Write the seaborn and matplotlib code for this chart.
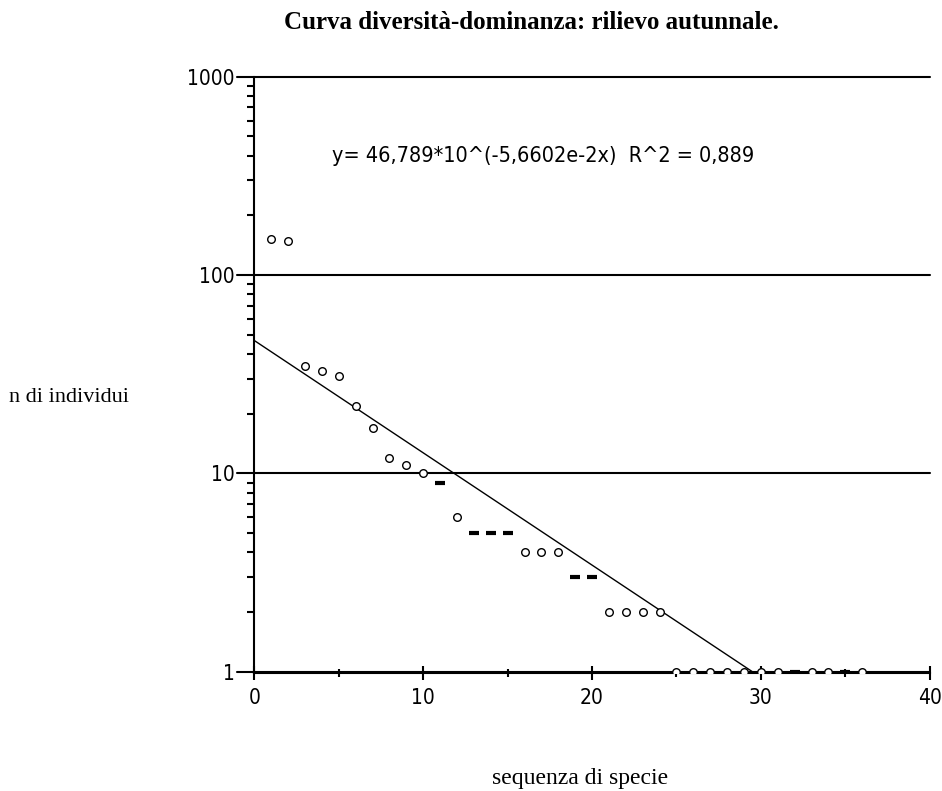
"""
Curva diversità-dominanza, rilievo autunnale (scala logaritmica).
"""

import numpy as np
import pandas as pd
import matplotlib
matplotlib.use("Agg")
import matplotlib.pyplot as plt
from matplotlib.ticker import FixedLocator, NullFormatter
import seaborn as sns

# dati
rango_cerchi = [1, 2, 3, 4, 5, 6, 7, 8, 9, 10, 12, 16, 17, 18, 21, 22, 23, 24,
                25, 26, 27, 28, 29, 30, 31, 33, 34, 36]
individui_cerchi = [152, 148, 35, 33, 31, 22, 17, 12, 11, 10, 6, 4, 4, 4, 2, 2, 2, 2,
                    1, 1, 1, 1, 1, 1, 1, 1, 1, 1]
rango_trattini = [11, 13, 14, 15, 19, 20, 32, 35]
individui_trattini = [9, 5, 5, 5, 3, 3, 1, 1]

# retta di tendenza y = a * 10^(b x)
coeff_a = 46.789
coeff_b = -5.6602e-2
x_tendenza = [0, 40]

titolo = "Curva diversità-dominanza: rilievo autunnale."
etichetta_x = "sequenza di specie"
etichetta_y = "n di individui"
equazione = "y= 46,789*10^(-5,6602e-2x)  R^2 = 0,889"

df_c = pd.DataFrame({"rango": rango_cerchi, "n": individui_cerchi})
df_t = pd.DataFrame({"rango": rango_trattini, "n": individui_trattini})
df_fit = pd.DataFrame({"rango": x_tendenza})
df_fit["n"] = coeff_a * 10 ** (coeff_b * df_fit["rango"])

sns.set_style("white")
plt.rcParams["text.color"] = "black"
tick_font = ["DejaVu Sans"]
serif_font = ["Liberation Serif", "DejaVu Serif"]

fig = plt.figure(figsize=(9.42, 7.91), dpi=100)
ax = fig.add_axes([0.27, 0.149, 0.717, 0.754])

ax.set_yscale("log")
ax.set_xlim(0, 40)
ax.set_ylim(0.985, 1000)

# griglia orizzontale sulle decadi
for v in [1, 10, 100, 1000]:
    ax.axhline(v, color="black", lw=1.5, zorder=1, xmin=-0.025, clip_on=False)

sns.lineplot(data=df_fit, x="rango", y="n", ax=ax, color="black", lw=1.0, zorder=2)
sns.scatterplot(data=df_c, x="rango", y="n", ax=ax, marker="o", s=30,
                facecolor="white", edgecolor="black", linewidth=1.0, zorder=3)
sns.scatterplot(data=df_t, x="rango", y="n", ax=ax, marker="_", s=60,
                color="black", linewidth=3.0, zorder=3)

for side in ["top", "right"]:
    ax.spines[side].set_visible(False)
for side in ["left", "bottom"]:
    ax.spines[side].set_color("black")
    ax.spines[side].set_linewidth(1.5)

ax.set_xticks([0, 10, 20, 30, 40])
ax.xaxis.set_minor_locator(FixedLocator([5, 15, 25, 35]))
ax.yaxis.set_major_locator(FixedLocator([1, 10, 100, 1000]))
minori = [m * 10 ** d for d in range(3) for m in range(2, 10)]
ax.yaxis.set_minor_locator(FixedLocator(minori))
ax.yaxis.set_minor_formatter(NullFormatter())
ax.set_yticklabels(["1", "10", "100", "1000"])

ax.tick_params(axis="x", which="major", direction="inout", length=10, width=1.5,
               color="black", pad=6)
ax.tick_params(axis="x", which="minor", direction="inout", length=6, width=1.5,
               color="black")
ax.tick_params(axis="y", which="major", direction="inout", length=0, width=1.5,
               pad=14)
ax.tick_params(axis="y", which="minor", direction="out", length=5, width=1.5,
               color="black")
ax.tick_params(left=True, bottom=True, which="both")
for lab in ax.get_xticklabels() + ax.get_yticklabels():
    lab.set_family(tick_font)
    lab.set_stretch("condensed")
    lab.set_fontsize(15)
    lab.set_color("black")

ax.set_xlabel("")
ax.set_ylabel("")

ax.text(4.6, 400, equazione, fontsize=15.5, family=tick_font, stretch="condensed",
        va="center", ha="left", color="black")

fig.text(0.564, 0.972, titolo, ha="center", va="center", fontsize=18,
         fontweight="bold", family=serif_font, color="black")
fig.text(0.010, 0.497, etichetta_y, ha="left", va="center", fontsize=16,
         family=serif_font, color="black")
fig.text(0.616, 0.016, etichetta_x, ha="center", va="center", fontsize=17,
         family=serif_font, color="black")

fig.savefig("out.png", dpi=100, facecolor="white")
